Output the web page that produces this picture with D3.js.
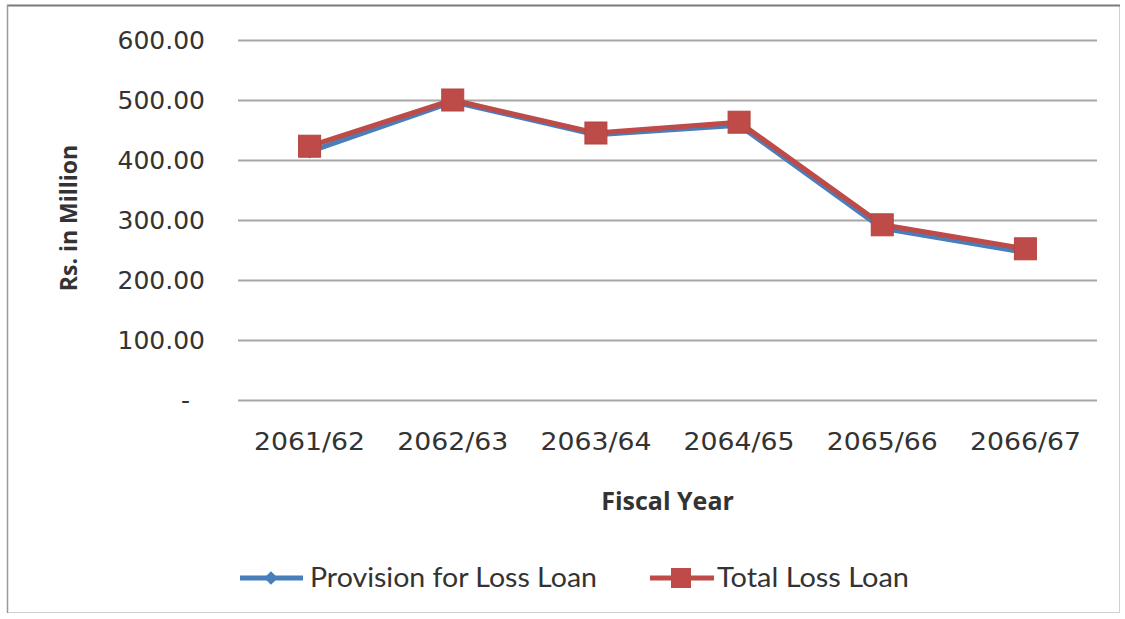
<!DOCTYPE html>
<html>
<head>
<meta charset="utf-8">
<script src="https://cdn.jsdelivr.net/npm/d3@7"></script>
<style>
  body { margin: 0; background: #fff; }
</style>
</head>
<body>
<div id="chart"></div>
<script>
const WIDTH = 1125;
const HEIGHT = 619;

// data
var YEARS = ["2061/62", "2062/63", "2063/64", "2064/65", "2065/66", "2066/67"];
var PROVISION = [414, 497, 442, 458, 286, 246];
var TOTAL_LOSS = [423, 500, 445, 463, 292, 252];
var Y_TICKS = [0, 100, 200, 300, 400, 500, 600];
var SERIES_NAMES = ["Provision for Loss Loan", "Total Loss Loan"];

var plot = { left: 238, right: 1097, top: 40, bottom: 400 };

var xScale = d3.scaleBand().domain(YEARS).range([plot.left, plot.right]);
var yScale = d3.scaleLinear().domain([0, 600]).range([plot.bottom, plot.top]);

var svg = d3.select("#chart").append("svg")
  .attr("width", WIDTH)
  .attr("height", HEIGHT);

// chart frame
svg.append("rect")
  .attr("x", 7.5).attr("y", 5.5)
  .attr("width", 1112).attr("height", 607)
  .attr("fill", "#fff")
  .attr("stroke", "#d0d0d0")
  .attr("stroke-width", 1);
svg.append("line")
  .attr("x1", 7).attr("x2", 1120).attr("y1", 5.5).attr("y2", 5.5)
  .attr("stroke", "#7a7a7a").attr("stroke-width", 2);
svg.append("line")
  .attr("x1", 7.5).attr("x2", 7.5).attr("y1", 5).attr("y2", 613)
  .attr("stroke", "#9a9a9a").attr("stroke-width", 1.5);

// gridlines (y axis)
var yAxis = d3.axisLeft(yScale)
  .tickValues(Y_TICKS)
  .tickSize(-(plot.right - plot.left))
  .tickPadding(33)
  .tickFormat(d => d === 0 ? "-" : d3.format(".2f")(d));

var gy = svg.append("g")
  .attr("transform", "translate(" + plot.left + ",0)")
  .call(yAxis);
gy.select(".domain").remove();
gy.selectAll(".tick line").attr("stroke", "#a6a6a6").attr("stroke-width", 2);
gy.selectAll(".tick text")
  .attr("fill", "#333")
  .style("font-family", "'DejaVu Sans', Verdana, sans-serif")
  .style("font-size", "25px");
gy.selectAll(".tick").filter(d => d === 0).select("text").attr("x", -48);

// x axis labels
var xAxis = d3.axisBottom(xScale).tickSize(0).tickPadding(32);
var gx = svg.append("g")
  .attr("transform", "translate(0," + plot.bottom + ")")
  .call(xAxis);
gx.select(".domain").remove();
gx.selectAll(".tick text")
  .attr("fill", "#333")
  .attr("textLength", 111)
  .attr("lengthAdjust", "spacingAndGlyphs")
  .style("font-family", "'DejaVu Sans', Verdana, sans-serif")
  .style("font-size", "25px");

// axis titles
svg.append("text")
  .attr("x", xScale("2063/64") + xScale.bandwidth())
  .attr("y", 510)
  .attr("text-anchor", "middle")
  .attr("fill", "#333")
  .style("font-family", "'Open Sans', sans-serif")
  .style("font-weight", "bold")
  .style("font-size", "25px")
  .text("Fiscal Year");

svg.append("text")
  .attr("transform", "translate(77,218) rotate(-90)")
  .attr("text-anchor", "middle")
  .attr("fill", "#333")
  .style("font-family", "'Open Sans', sans-serif")
  .style("font-weight", "bold")
  .style("font-size", "23px")
  .text("Rs. in Million");

var cx = d => xScale(d) + xScale.bandwidth() / 2;

var line = d3.line()
  .x((d, i) => cx(YEARS[i]))
  .y(d => yScale(d));

// Provision series (blue, diamonds)
svg.append("path")
  .datum(PROVISION)
  .attr("d", line)
  .attr("fill", "none")
  .attr("stroke", "#4a7ebb")
  .attr("stroke-width", 5)
  .attr("stroke-linejoin", "round");

svg.append("g").selectAll("path")
  .data(PROVISION)
  .enter().append("path")
  .attr("d", d3.symbol().type(d3.symbolDiamond2).size(120))
  .attr("transform", (d, i) => "translate(" + cx(YEARS[i]) + "," + yScale(d) + ")")
  .attr("fill", "#4a7ebb");

// Total loss series (red, squares)
svg.append("path")
  .datum(TOTAL_LOSS)
  .attr("d", line)
  .attr("fill", "none")
  .attr("stroke", "#be4b48")
  .attr("stroke-width", 5)
  .attr("stroke-linejoin", "round");

svg.append("g").selectAll("rect")
  .data(TOTAL_LOSS)
  .enter().append("rect")
  .attr("x", (d, i) => cx(YEARS[i]) - 11)
  .attr("y", d => yScale(d) - 11)
  .attr("width", 22)
  .attr("height", 22)
  .attr("fill", "#be4b48")
  .attr("stroke", "#b54542")
  .attr("stroke-width", 1);

// legend
var legend = svg.append("g").attr("transform", "translate(0,578)");

var leg1 = legend.append("g").attr("transform", "translate(240,0)");
leg1.append("line").attr("x1", 0).attr("x2", 63).attr("y1", 0).attr("y2", 0)
  .attr("stroke", "#4a7ebb").attr("stroke-width", 5);
leg1.append("path")
  .attr("d", d3.symbol().type(d3.symbolDiamond2).size(120))
  .attr("transform", "translate(31,0)")
  .attr("fill", "#4a7ebb");
leg1.append("text").attr("x", 70).attr("y", 9)
  .attr("fill", "#333")
  .attr("textLength", 287)
  .attr("lengthAdjust", "spacingAndGlyphs")
  .style("font-family", "Lato, sans-serif")
  .style("font-size", "26px")
  .text(SERIES_NAMES[0]);

var leg2 = legend.append("g").attr("transform", "translate(650,0)");
leg2.append("line").attr("x1", 0).attr("x2", 64).attr("y1", 0).attr("y2", 0)
  .attr("stroke", "#be4b48").attr("stroke-width", 5);
leg2.append("rect").attr("x", 21).attr("y", -10).attr("width", 20).attr("height", 20)
  .attr("fill", "#be4b48");
leg2.append("text").attr("x", 67).attr("y", 9)
  .attr("fill", "#333")
  .attr("textLength", 192)
  .attr("lengthAdjust", "spacingAndGlyphs")
  .style("font-family", "Lato, sans-serif")
  .style("font-size", "26px")
  .text(SERIES_NAMES[1]);
</script>
</body>
</html>
